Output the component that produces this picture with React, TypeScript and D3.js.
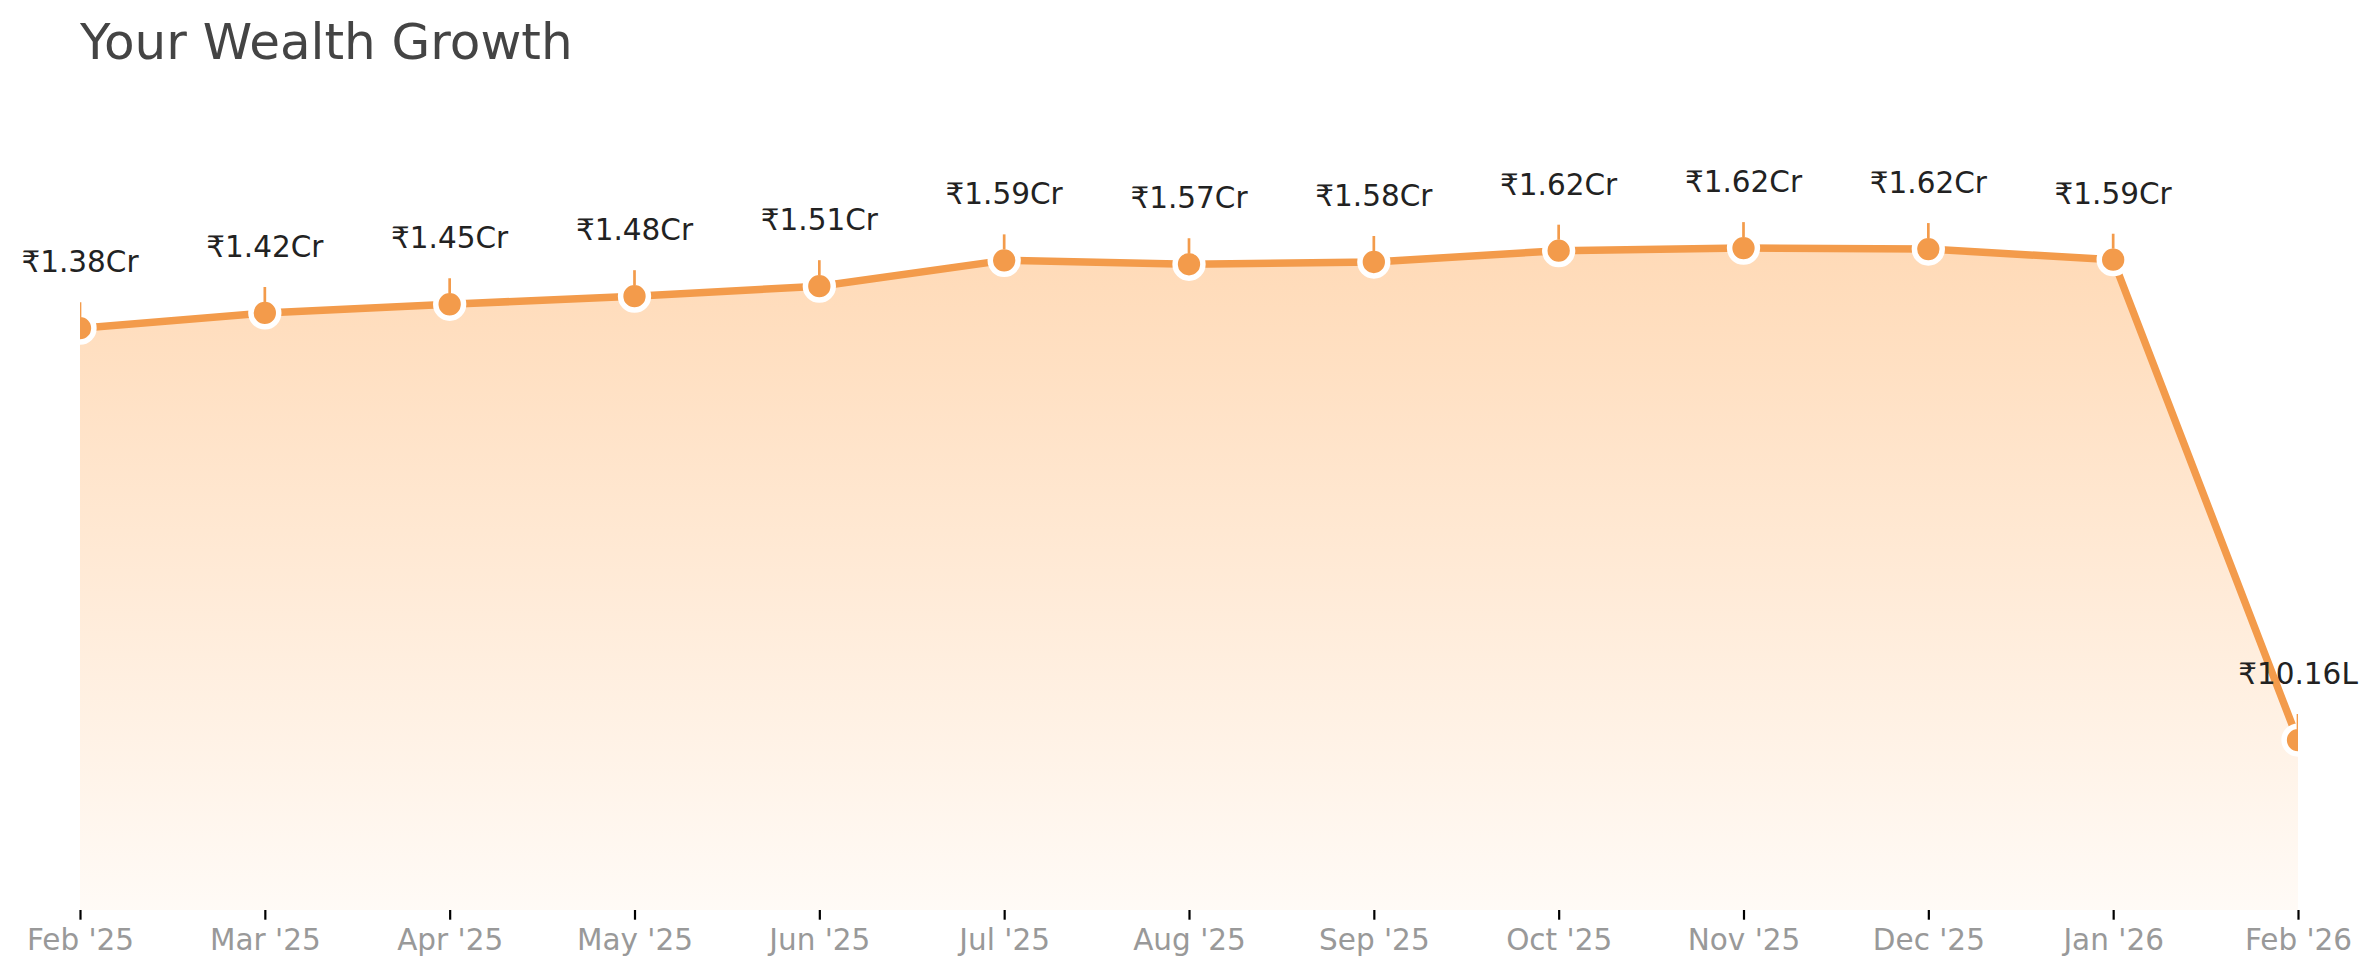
import { useEffect, useRef } from "react";
import * as d3 from "d3";

const months = [
  "Feb '25", "Mar '25", "Apr '25", "May '25", "Jun '25", "Jul '25", "Aug '25",
  "Sep '25", "Oct '25", "Nov '25", "Dec '25", "Jan '26", "Feb '26",
];
// net worth in crore
const wealthCr = [
  1.378, 1.425, 1.452, 1.477, 1.508, 1.588, 1.576, 1.583, 1.618, 1.626, 1.623, 1.59, 0.1016,
];
const valueLabels = [
  "₹1.38Cr", "₹1.42Cr", "₹1.45Cr", "₹1.48Cr", "₹1.51Cr", "₹1.59Cr", "₹1.57Cr",
  "₹1.58Cr", "₹1.62Cr", "₹1.62Cr", "₹1.62Cr", "₹1.59Cr", "₹10.16L",
];
const yLimits = [-0.425, 2.15];

const ORANGE = "#F39B4B";
const FILL = "#FFA550";
const FONT = "DejaVu Sans, sans-serif";

export default function App() {
  const svgRef = useRef<SVGSVGElement>(null);
  const width = 2380;
  const height = 979;

  useEffect(() => {
    const svg = svgRef.current;
    if (!svg) return;
    const root = d3.select(svg);
    root.selectAll("*").remove();

    const margin = { top: 79, right: 82, bottom: 69, left: 80 };
    const x0 = margin.left;
    const x1 = width - margin.right;
    const y0 = height - margin.bottom;
    const y1 = margin.top;

    const x = d3.scalePoint<string>().domain(months).range([x0, x1]).padding(0);
    const y = d3.scaleLinear().domain(yLimits).range([y0, y1]);

    const data = months.map((m, i) => ({ m, v: wealthCr[i], label: valueLabels[i] }));
    type D = (typeof data)[number];

    const defs = root.append("defs");
    defs
      .append("clipPath")
      .attr("id", "plot-clip")
      .append("rect")
      .attr("x", x0)
      .attr("y", y1)
      .attr("width", x1 - x0)
      .attr("height", y0 - y1);

    const grad = defs
      .append("linearGradient")
      .attr("id", "area-grad")
      .attr("gradientUnits", "userSpaceOnUse")
      .attr("x1", 0)
      .attr("x2", 0)
      .attr("y1", y(d3.max(wealthCr)!))
      .attr("y2", y0);
    grad.append("stop").attr("offset", 0).attr("stop-color", FILL).attr("stop-opacity", 0.41);
    grad.append("stop").attr("offset", 1).attr("stop-color", FILL).attr("stop-opacity", 0.05);

    root
      .append("text")
      .attr("x", 80)
      .attr("y", 59)
      .attr("font-family", FONT)
      .attr("font-size", 50)
      .attr("fill", "#444")
      .text("Your Wealth Growth");

    const plot = root.append("g").attr("clip-path", "url(#plot-clip)");

    const area = d3
      .area<D>()
      .x((d) => x(d.m)!)
      .y0(y0)
      .y1((d) => y(d.v));
    plot.append("path").datum(data).attr("d", area).attr("fill", "url(#area-grad)");

    const line = d3
      .line<D>()
      .x((d) => x(d.m)!)
      .y((d) => y(d.v));
    plot
      .append("path")
      .datum(data)
      .attr("d", line)
      .attr("fill", "none")
      .attr("stroke", ORANGE)
      .attr("stroke-width", 7.5)
      .attr("stroke-linejoin", "round");

    plot
      .selectAll("circle")
      .data(data)
      .join("circle")
      .attr("cx", (d) => x(d.m)!)
      .attr("cy", (d) => y(d.v))
      .attr("r", 13.9)
      .attr("fill", ORANGE)
      .attr("stroke", "#fff")
      .attr("stroke-width", 5.5);

    // annotation stems, drawn over the marker ring
    plot
      .selectAll("line.stem")
      .data(data)
      .join("line")
      .attr("class", "stem")
      .attr("x1", (d) => x(d.m)!)
      .attr("x2", (d) => x(d.m)!)
      .attr("y1", (d) => y(d.v) - 26)
      .attr("y2", (d) => y(d.v) - 11)
      .attr("stroke", ORANGE)
      .attr("stroke-width", 2.7);

    root
      .append("g")
      .selectAll("text")
      .data(data)
      .join("text")
      .attr("x", (d) => x(d.m)!)
      .attr("y", (d) => y(d.v) - 56)
      .attr("text-anchor", "middle")
      .attr("font-family", FONT)
      .attr("font-size", 29.5)
      .attr("fill", "#222")
      .text((d) => d.label);

    const axis = root
      .append("g")
      .attr("transform", `translate(0,${y0})`)
      .call(d3.axisBottom(x).tickSize(9.7).tickPadding(9.7));
    axis.select(".domain").remove();
    axis.selectAll(".tick line").attr("stroke", "#000").attr("stroke-width", 2.2);
    axis
      .selectAll(".tick text")
      .attr("font-family", FONT)
      .attr("font-size", 29.5)
      .attr("fill", "#999");
  }, []);

  return (
    <svg
      ref={svgRef}
      width={width}
      height={height}
      style={{ position: "absolute", left: 0, top: 0, background: "#fff" }}
    />
  );
}
